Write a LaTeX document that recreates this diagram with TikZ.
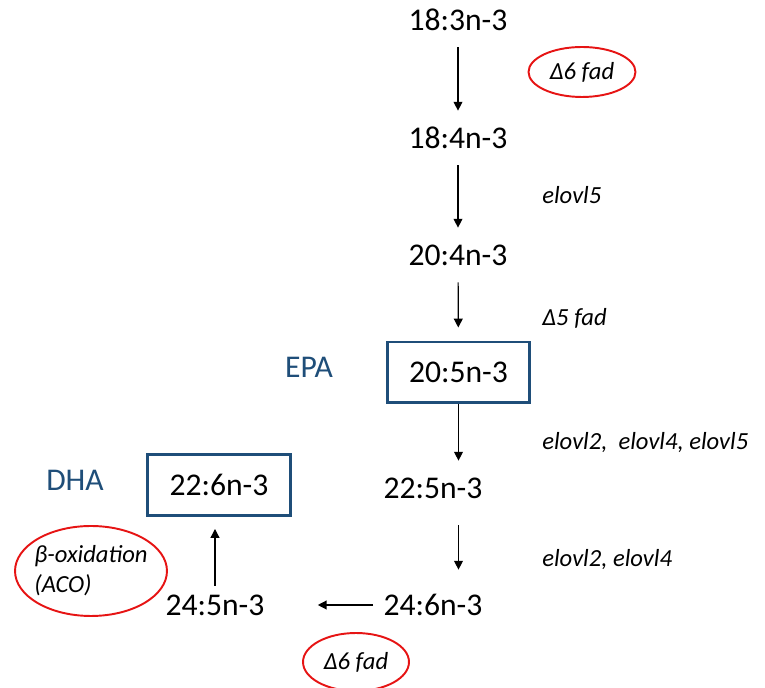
\documentclass[tikz,border=0pt]{standalone}
\usepackage{fontspec}
\setmainfont{Carlito}
\usetikzlibrary{arrows.meta,shapes.geometric}
\definecolor{acidblue}{RGB}{31,78,121}
\definecolor{enzred}{RGB}{230,20,20}

\begin{document}
\begin{tikzpicture}[x=0.02cm,y=-0.02cm,
  acid/.style={font=\fontsize{18}{21}\selectfont,inner sep=0pt,minimum height=1.08cm},
  keyacid/.style={acid,draw=acidblue,line width=1.7pt,minimum width=2.86cm,minimum height=1.22cm},
  tag/.style={font=\fontsize{18}{21}\selectfont,text=acidblue,inner sep=0pt},
  enz/.style={font=\fontsize{14}{17}\selectfont\itshape,inner sep=0pt,anchor=west},
  enzcirc/.style={enz,anchor=center,ellipse,draw=enzred,line width=1.1pt},
  conv/.style={line width=0.7pt,-{Triangle[length=5pt,width=5pt]}}]
\useasboundingbox (0,0) rectangle (765,688);
% fatty acids
\node[acid] (c183) at (458,20) {18:3n-3};
\node[acid] (c184) at (458,138) {18:4n-3};
\node[acid] (c204) at (458,255) {20:4n-3};
\node[keyacid] (c205) at (458.5,372.5) {20:5n-3};
\node[acid] (c225) at (433,488) {22:5n-3};
\node[acid] (c246) at (433,605) {24:6n-3};
\node[acid] (c245) at (215,605) {24:5n-3};
\node[keyacid] (c226) at (219,485) {22:6n-3};
\node[tag] (epa) at (309,367) {EPA};
\node[tag] (dha) at (75,480) {DHA};
% enzymes
\node[enzcirc,minimum width=2.14cm,minimum height=1cm] (fad6a) at (582,72) {Δ6 fad};
\node[enz] (elo5) at (542,195) {elovl5};
\node[enz] (fad5) at (542,318) {Δ5 fad};
\node[enz] (elo245) at (542,443) {elovl2,\ \ elovl4, elovl5};
\node[enz] (elo24) at (542,560) {elovl2, elovl4};
\node[enzcirc,minimum width=2.12cm,minimum height=1.16cm] (fad6b) at (356,662) {Δ6 fad};
\node[enzcirc,align=left,inner xsep=-3pt,minimum width=3.04cm,minimum height=1.8cm] (aco) at (91,571) {β-oxidation\\(ACO)};
% conversions
\draw[conv] (c183) -- (c184);
\draw[conv] (c184) -- (c204);
\draw[conv,shorten >=0.26cm] (c204) -- (c205);
\draw[conv] (c205.south) -- (c205.south |- c225.north);
\draw[conv,shorten <=0.2cm,shorten >=0.16cm] (c205.south |- c225.south) -- (c205.south |- c246.north);
\draw[conv,shorten <=0.2cm,shorten >=1.06cm] (c246.west) -- (c245.east);
\draw[conv,shorten <=0.38cm,shorten >=0.24cm] (c245.center) -- (c245.center |- c226.south);
\end{tikzpicture}
\end{document}
